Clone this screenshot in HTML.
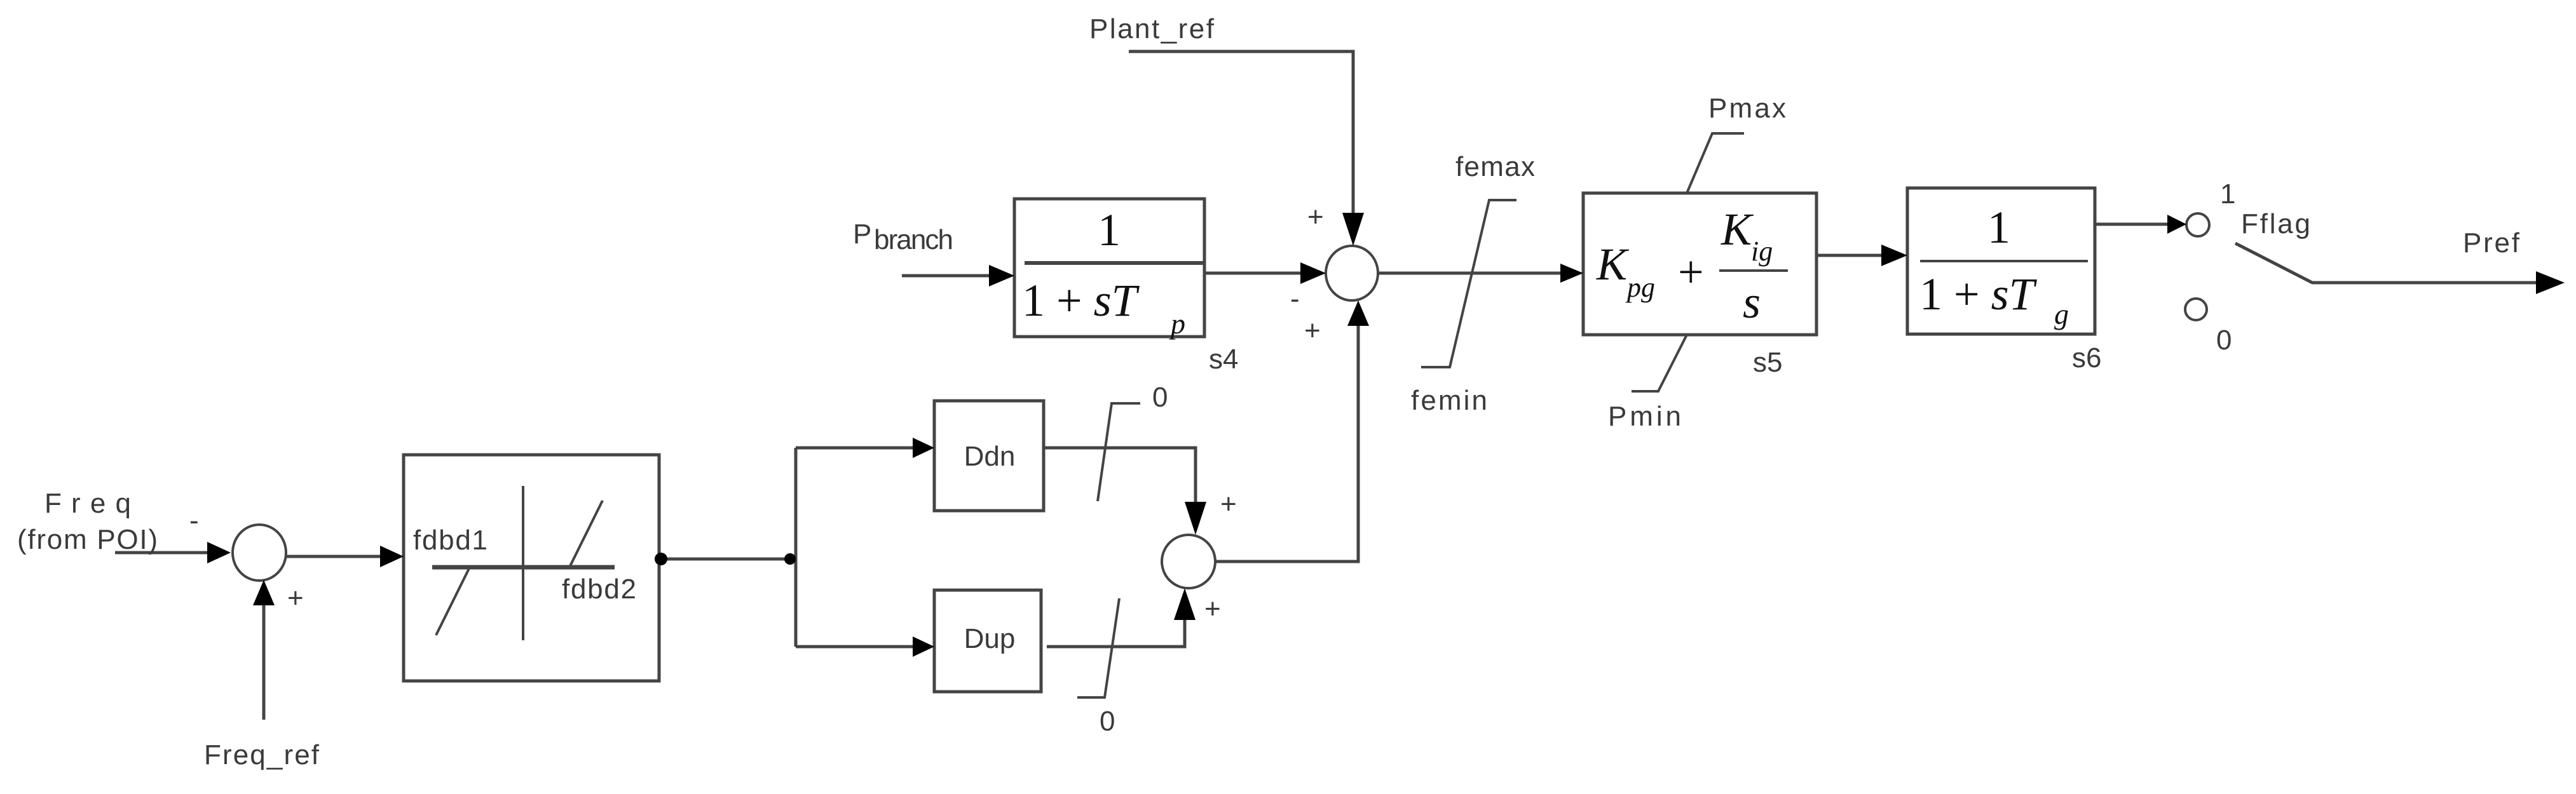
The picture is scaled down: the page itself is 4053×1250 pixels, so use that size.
<!DOCTYPE html>
<html><head><meta charset="utf-8"><style>
html,body{margin:0;padding:0;background:#fff;}
svg{display:block;}
.t{font-family:"Liberation Sans",Arial,sans-serif;fill:#3a3a3a;font-size:44px;}
.m{font-family:"Liberation Serif",serif;fill:#111;font-size:72px;}
.mi{font-family:"Liberation Serif",serif;font-style:italic;fill:#111;}
</style></head><body>
<svg width="4053" height="1250" viewBox="0 0 4053 1250" xmlns="http://www.w3.org/2000/svg">
<g stroke="#444" stroke-width="5" fill="none">
<!-- Freq input -->
<line x1="181" y1="870" x2="330" y2="870"/>
<ellipse cx="408" cy="870" rx="42" ry="44" stroke-width="4"/>
<line x1="415" y1="1133" x2="415" y2="950"/>
<line x1="450" y1="876" x2="600" y2="876"/>
<!-- deadband box -->
<rect x="635" y="716" width="402" height="356"/>
<line x1="823" y1="765" x2="823" y2="1008" stroke-width="4"/>
<line x1="680" y1="893" x2="967" y2="893" stroke-width="7"/>
<line x1="739" y1="893" x2="686" y2="1000" stroke-width="4"/>
<line x1="896" y1="893" x2="948" y2="788" stroke-width="4"/>
<!-- branch -->
<line x1="1040" y1="880" x2="1248" y2="880"/>
<line x1="1252" y1="705" x2="1252" y2="1018"/>
<line x1="1252" y1="705" x2="1440" y2="705"/>
<line x1="1252" y1="1018" x2="1440" y2="1018"/>
<!-- Ddn / Dup -->
<rect x="1470" y="631" width="172" height="173"/>
<rect x="1470" y="929" width="168" height="160"/>
<polyline points="1642,705 1881,705 1881,810"/>
<polyline points="1647,1018 1864,1018 1864,960"/>
<polyline points="1794,635 1749,635 1727,789" stroke-width="4"/>
<polyline points="1761,942 1738,1098 1695,1098" stroke-width="4"/>
<ellipse cx="1870" cy="884" rx="42" ry="42" stroke-width="4"/>
<polyline points="1912,884 2137,884 2137,508"/>
<!-- P branch / s4 -->
<line x1="1419" y1="434" x2="1560" y2="434"/>
<rect x="1596" y="313" width="299" height="217"/>
<line x1="1612" y1="414" x2="1895" y2="414" stroke-width="6"/>
<line x1="1895" y1="430" x2="2050" y2="430"/>
<!-- plant ref -->
<polyline points="1776,81 2129,81 2129,340"/>
<ellipse cx="2127" cy="430" rx="41" ry="43" stroke-width="4"/>
<!-- limiter femax -->
<line x1="2168" y1="430" x2="2455" y2="430"/>
<polyline points="2386,315 2343,315 2281,578 2236,578" stroke-width="4"/>
<!-- s5 -->
<rect x="2491" y="304" width="367" height="223"/>
<polyline points="2654,304 2694,210 2744,210" stroke-width="4"/>
<polyline points="2654,527 2609,616 2567,616" stroke-width="4"/>
<line x1="2705" y1="426" x2="2813" y2="426" stroke-width="4"/>
<line x1="2858" y1="402" x2="2965" y2="402"/>
<!-- s6 -->
<rect x="3001" y="296" width="295" height="230"/>
<line x1="3021" y1="411" x2="3285" y2="411" stroke-width="4"/>
<line x1="3296" y1="353" x2="3410" y2="353"/>
<!-- switch -->
<circle cx="3458" cy="354" r="18" stroke-width="4"/>
<circle cx="3455" cy="487" r="17" stroke-width="4"/>
<polyline points="3517,383 3638,445 3990,445"/>
</g>
<g fill="#000">
<polygon points="363,870 326,853 326,887"/>
<polygon points="415,913 398,953 432,953"/>
<polygon points="635,876 598,859 598,893"/>
<circle cx="1040" cy="880" r="10"/>
<circle cx="1243" cy="880" r="9"/>
<polygon points="1470,705 1436,689 1436,721"/>
<polygon points="1470,1018 1436,1002 1436,1034"/>
<polygon points="1881,842 1864,790 1898,790"/>
<polygon points="1864,926 1847,976 1881,976"/>
<polygon points="1596,434 1556,417 1556,451"/>
<polygon points="2086,430 2046,413 2046,447"/>
<polygon points="2129,387 2112,335 2146,335"/>
<polygon points="2137,473 2120,513 2154,513"/>
<polygon points="2491,430 2455,415 2455,445"/>
<polygon points="3001,402 2960,385 2960,419"/>
<polygon points="3440,353 3410,338 3410,368"/>
<polygon points="4035,445 3990,427 3990,463"/>
</g>
<!-- labels -->
<text class="t" x="138" y="807" text-anchor="middle" textLength="136">Freq</text>
<text class="t" x="27" y="864" textLength="221">(from POI)</text>
<text class="t" x="298" y="834">-</text>
<text class="t" x="452" y="956">+</text>
<text class="t" x="321" y="1203" textLength="181">Freq_ref</text>
<text class="t" x="650" y="865" textLength="117">fdbd1</text>
<text class="t" x="884" y="942" textLength="117">fdbd2</text>
<text class="t" x="1557" y="733" text-anchor="middle">Ddn</text>
<text class="t" x="1557" y="1020" text-anchor="middle">Dup</text>
<text class="t" x="1813" y="640">0</text>
<text class="t" x="1730" y="1150">0</text>
<text class="t" x="1920" y="808">+</text>
<text class="t" x="1895" y="973">+</text>
<text class="t" x="1342" y="383" font-size="50">P</text>
<text class="t" x="1375" y="392" font-size="32" textLength="125">branch</text>
<text class="t" x="1714" y="60" textLength="196">Plant_ref</text>
<text class="t" x="1902" y="580">s4</text>
<text class="t" x="2057" y="356">+</text>
<text class="t" x="2030" y="485">-</text>
<text class="t" x="2052" y="535">+</text>
<text class="t" x="2290" y="277" textLength="125">femax</text>
<text class="t" x="2220" y="645" textLength="120">femin</text>
<text class="t" x="2688" y="185" textLength="122">Pmax</text>
<text class="t" x="2530" y="670" textLength="115">Pmin</text>
<text class="t" x="2758" y="585">s5</text>
<text class="t" x="3260" y="578">s6</text>
<text class="t" x="3493" y="320">1</text>
<text class="t" x="3526" y="367" textLength="109">Fflag</text>
<text class="t" x="3875" y="397" textLength="89">Pref</text>
<text class="t" x="3487" y="550">0</text>
<!-- math -->
<text class="m" x="1745" y="386" text-anchor="middle">1</text>
<text class="m" x="1608" y="497">1 + <tspan font-style="italic">sT</tspan></text>
<text class="mi" x="1842" y="525" font-size="46">p</text>
<text class="mi" x="2512" y="440" font-size="72">K</text>
<text class="mi" x="2560" y="467" font-size="44">pg</text>
<text class="m" x="2640" y="452">+</text>
<text class="mi" x="2708" y="385" font-size="72">K</text>
<text class="mi" x="2755" y="410" font-size="44">ig</text>
<text class="mi" x="2742" y="500" font-size="72">s</text>
<text class="m" x="3145" y="382" text-anchor="middle">1</text>
<text class="m" x="3020" y="487">1 + <tspan font-style="italic">sT</tspan></text>
<text class="mi" x="3232" y="510" font-size="46">g</text>
</svg>
</body></html>
